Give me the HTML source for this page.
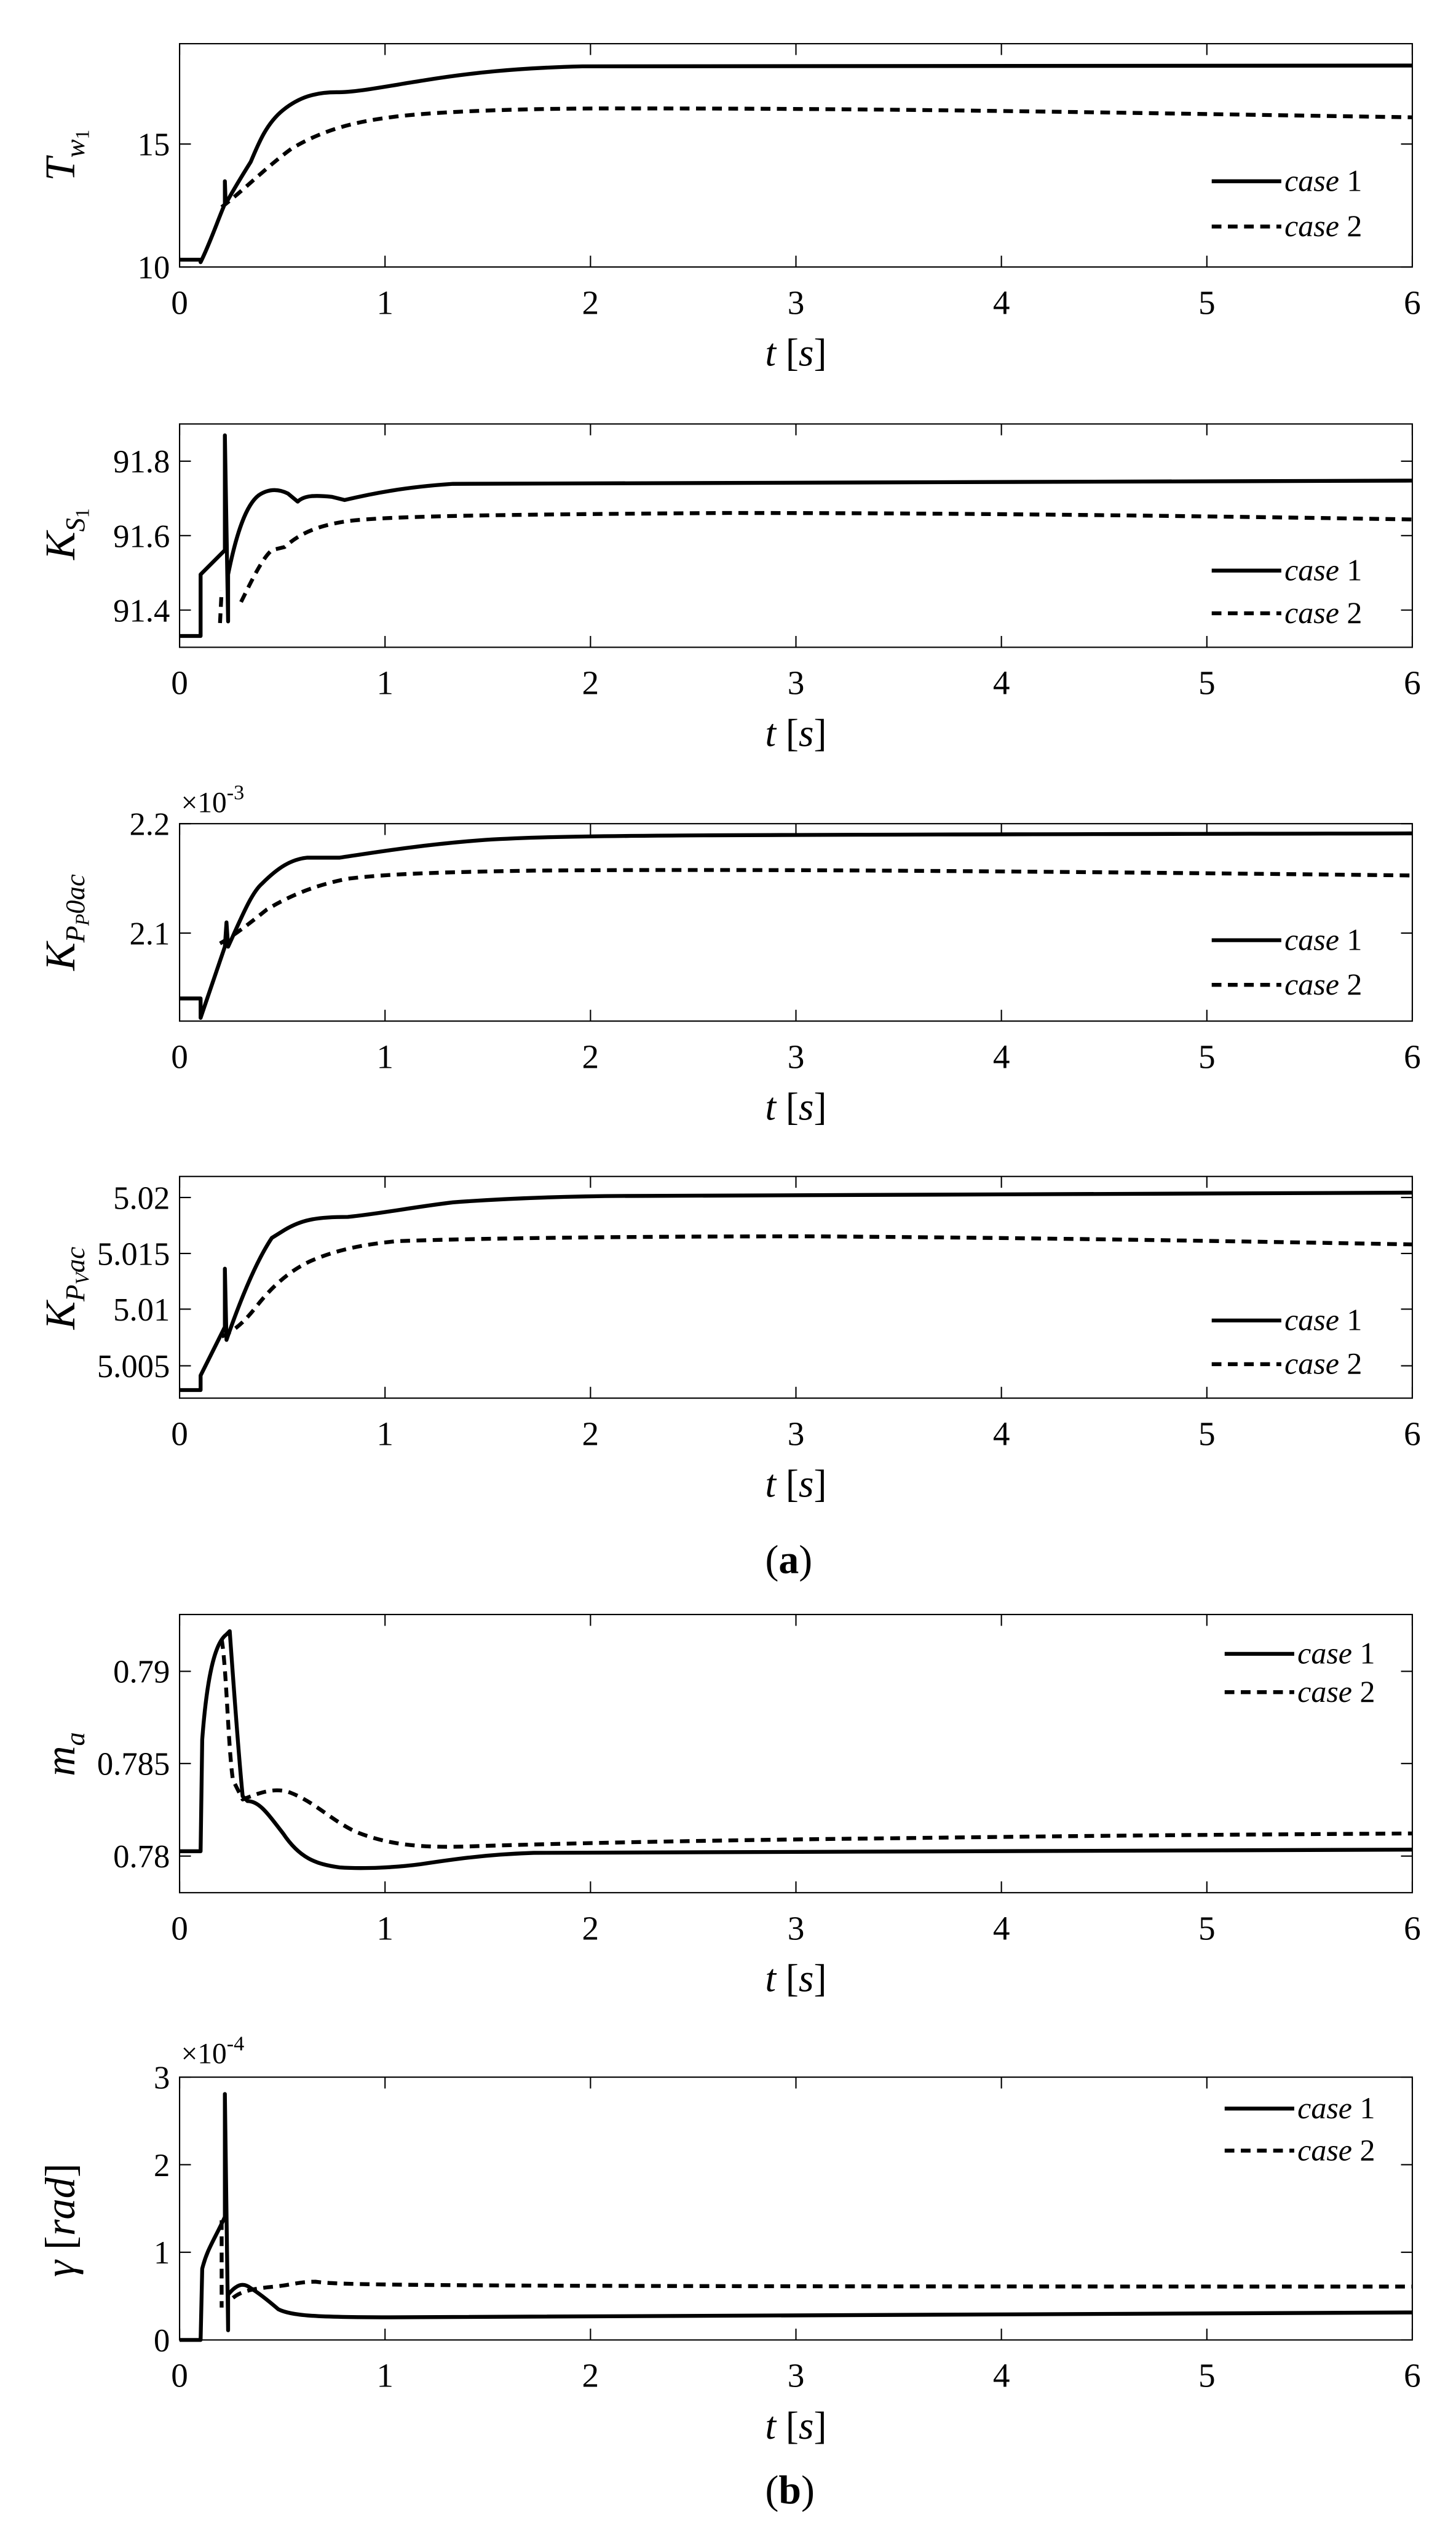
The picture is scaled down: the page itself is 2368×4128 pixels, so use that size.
<!DOCTYPE html>
<html><head><meta charset="utf-8"><style>
html,body{margin:0;padding:0;background:#fff;}
svg{display:block;}
text{font-family:"Liberation Serif",serif;fill:#000;}
</style></head><body>
<svg id="s" xmlns="http://www.w3.org/2000/svg" width="2368" height="4128" viewBox="0 0 900 1569" preserveAspectRatio="none">
<rect width="900" height="1569" fill="#fff"/>
<g id="axes"></g>
<g fill="none" stroke="#000" stroke-width="2.4" stroke-linejoin="round">
<path d="M111,160.5 L124,160.5 L124,162 C130,150 135,135 139,126 L139,112 L139.5,126 C145,116 150,108 155,100 C160,88 165,76 175,68 C185,60 195,57 208,57 C220,57 235,54 260,50 C290,45 320,42 360,41 L873,40.5"/>
<path stroke-dasharray="6 4" d="M137,128 C150,118 165,103 180,92 C200,80 220,75 245,72 C270,69 320,67 380,67 C550,67 650,69 873,72.5"/>
<path d="M111,393 L124,393 L124,355 L139,340 L139,269 L141,384 L141,355 C146,330 152,312 160,306 C166,302 172,302 178,305 L184,310 C188,306 195,306 205,307 L213,309 C230,305 250,301 280,299 C320,297 380,297 873,297"/>
<path stroke-dasharray="6 4" d="M136,385 L137,365 M149,372 C155,360 162,345 168,340 L176,338 C185,330 195,325 215,322 C240,319 300,318 450,317 C600,317 750,319 873,321"/>
<path d="M111,617 L124,617 L124,629 L139,585 L140,570 L141,585 C148,570 155,552 162,546 C172,536 180,531 190,530 L210,530 C230,527 260,522 300,519 C350,516 400,516 873,515"/>
<path stroke-dasharray="6 4" d="M136,583 C145,578 155,570 165,562 C180,553 195,547 215,543 C240,540 270,539 330,538 C450,537 600,538 873,541"/>
<path d="M111,859 L124,859 L124,850 L139,820 L139,784 L140,828 C148,805 158,780 168,765 L176,760 C186,754 195,752 215,752 C235,750 255,746 280,743 C320,740 360,739 400,739 L873,737"/>
<path stroke-dasharray="6 4" d="M137,826 C145,822 150,818 158,808 C168,795 180,784 195,778 C210,772 225,769 245,767 C300,765 400,764 500,764 C650,765 760,767 873,769"/>
<path d="M111,1144 L124,1144 L125,1075 C128,1035 133,1015 140,1010 L142,1008 C145,1050 148,1090 150,1110 L153,1113 C160,1113 165,1120 175,1133 C185,1148 195,1152 210,1154 C225,1155 245,1154 260,1152 C280,1149 300,1146 330,1145 C400,1144 600,1143.5 873,1143"/>
<path stroke-dasharray="6 4" d="M137,1013 C140,1030 141,1080 144,1100 L150,1112 C160,1108 170,1104 180,1108 C195,1114 205,1125 220,1132 C240,1140 260,1142 290,1141 C350,1139 450,1137 550,1136 C700,1134 800,1133.5 873,1133"/>
<path d="M111,1446 L124,1446 L125,1402 C128,1390 132,1385 139,1370 L139,1294 L141,1440 L141,1418 C146,1412 150,1410 155,1414 C160,1417 165,1421 172,1427 C180,1431 195,1432 240,1432 C300,1431 400,1430 873,1429"/>
<path stroke-dasharray="6 4" d="M137,1372 L137,1426 M144,1420 C150,1415 160,1414 170,1413 C180,1412 185,1410 195,1410 C210,1412 230,1413 873,1413"/>
</g>
<g font-size="26" font-style="italic">
<text transform="translate(46,96) rotate(-90)" text-anchor="middle">T<tspan font-size="17" dy="6">w</tspan><tspan font-size="12" dy="3" font-style="normal">1</tspan></text>
<text transform="translate(46,330) rotate(-90)" text-anchor="middle">K<tspan font-size="17" dy="6">S</tspan><tspan font-size="12" dy="3" font-style="normal">1</tspan></text>
<text transform="translate(46,570) rotate(-90)" text-anchor="middle">K<tspan font-size="17" dy="6">P</tspan><tspan font-size="12" dy="3">P</tspan><tspan font-size="17" dy="-3">0ac</tspan></text>
<text transform="translate(46,796) rotate(-90)" text-anchor="middle">K<tspan font-size="17" dy="6">P</tspan><tspan font-size="12" dy="3">V</tspan><tspan font-size="17" dy="-3">ac</tspan></text>
<text transform="translate(46,1084) rotate(-90)" text-anchor="middle">m<tspan font-size="17" dy="6">a</tspan></text>
<text transform="translate(46,1372) rotate(-90)" text-anchor="middle">γ <tspan font-style="normal">[</tspan>rad<tspan font-style="normal">]</tspan></text>
</g>
<text x="112" y="502" font-size="18">×10<tspan font-size="13" dy="-8">-3</tspan></text>
<text x="112" y="1275" font-size="18">×10<tspan font-size="13" dy="-8">-4</tspan></text>
<text x="473" y="972" font-size="25" font-family="Liberation Sans" >(<tspan font-weight="bold">a</tspan>)</text>
<text x="473" y="1547" font-size="25" font-family="Liberation Sans">(<tspan font-weight="bold">b</tspan>)</text>
</svg>
<script>
var NS="http://www.w3.org/2000/svg",g=document.getElementById("axes");
function el(t,a,txt){var e=document.createElementNS(NS,t);for(var k in a)e.setAttribute(k,a[k]);if(txt!=null)e.textContent=txt;g.appendChild(e);return e;}
var L=111,R=873;
var plots=[
 {top:27,bot:165,ticks:[[165,"10"],[89,"15"]],leg:[112,140],lx:[749,792]},
 {top:262,bot:400,ticks:[[285,"91.8"],[331,"91.6"],[377,"91.4"]],leg:[352.6,379],lx:[749,792]},
 {top:509,bot:631,ticks:[[509,"2.2"],[576.6,"2.1"]],leg:[581,608.6],lx:[749,792]},
 {top:727,bot:864,ticks:[[740,"5.02"],[774.6,"5.015"],[809,"5.01"],[844,"5.005"]],leg:[816,843],lx:[749,792]},
 {top:997.7,bot:1169.6,ticks:[[1032.8,"0.79"],[1089.8,"0.785"],[1147,"0.78"]],leg:[1022,1045.7],lx:[757,800]},
 {top:1283.6,bot:1446,ticks:[[1283.6,"3"],[1337.7,"2"],[1391.8,"1"],[1446,"0"]],leg:[1303,1329],lx:[757,800]}
];
plots.forEach(function(p){
 el("rect",{x:L,y:p.top,width:R-L,height:p.bot-p.top,fill:"none",stroke:"#000","stroke-width":0.8});
 for(var i=0;i<=6;i++){var x=L+(R-L)*i/6;
  el("line",{x1:x,y1:p.bot,x2:x,y2:p.bot-7,stroke:"#000","stroke-width":0.8});
  el("line",{x1:x,y1:p.top,x2:x,y2:p.top+7,stroke:"#000","stroke-width":0.8});
  el("text",{x:x,y:p.bot+29,"font-size":21,"text-anchor":"middle"},String(i));}
 p.ticks.forEach(function(t){
  el("line",{x1:L,y1:t[0],x2:L+7,y2:t[0],stroke:"#000","stroke-width":0.8});
  el("line",{x1:R,y1:t[0],x2:R-7,y2:t[0],stroke:"#000","stroke-width":0.8});
  el("text",{x:L-6,y:t[0]+7,"font-size":20,"text-anchor":"end"},t[1]);});
 var tl=el("text",{x:492,y:p.bot+61,"font-size":24,"text-anchor":"middle"});
 tl.innerHTML='<tspan font-style="italic">t</tspan> [<tspan font-style="italic">s</tspan>]';
 el("line",{x1:p.lx[0],y1:p.leg[0],x2:p.lx[1],y2:p.leg[0],stroke:"#000","stroke-width":2.4});
 el("line",{x1:p.lx[0],y1:p.leg[1],x2:p.lx[1],y2:p.leg[1],stroke:"#000","stroke-width":2.4,"stroke-dasharray":"6 4"});
 var a=el("text",{x:p.lx[1]+2,y:p.leg[0]+6,"font-size":19});a.innerHTML='<tspan font-style="italic">case</tspan> 1';
 var b=el("text",{x:p.lx[1]+2,y:p.leg[1]+6,"font-size":19});b.innerHTML='<tspan font-style="italic">case</tspan> 2';
});
</script>
</body></html>
